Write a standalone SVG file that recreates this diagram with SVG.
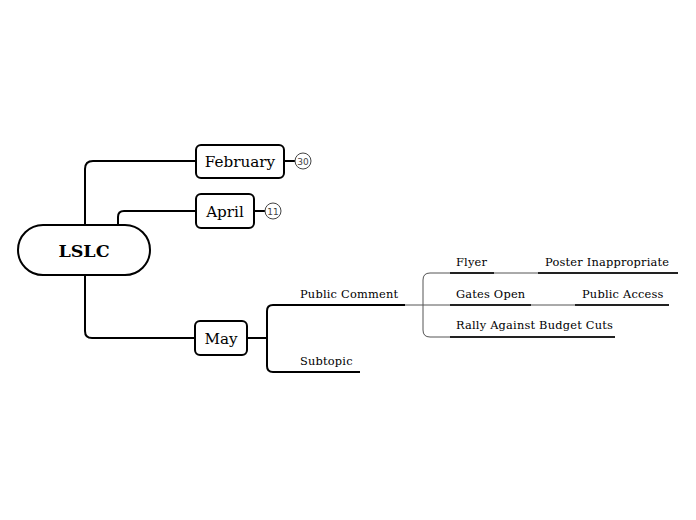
<svg xmlns="http://www.w3.org/2000/svg" width="696" height="520" viewBox="0 0 696 520">
<style>
.box{fill:#fff;stroke:#000;stroke-width:2}
.main{fill:none;stroke:#000;stroke-width:2}
.thin{fill:none;stroke:#555;stroke-width:1}
.ul{fill:none;stroke:#222;stroke-width:2}
.t{font-family:"DejaVu Serif","Liberation Serif",serif;fill:#000}
.big{font-size:15.2px;text-anchor:middle}
.sm{font-size:11.4px;letter-spacing:0.2px}
.badge{fill:#fff;stroke:#444;stroke-width:1}
.bt{font-family:"DejaVu Sans","Liberation Sans",sans-serif;font-size:9px;fill:#444;text-anchor:middle}
</style>
<g id="connectors">
<path class="main" d="M85,225 V169 Q85,161 93,161 H196"/>
<path class="main" d="M118,225 V217 Q118,211 124,211 H196"/>
<path class="main" d="M85,275 V331 Q85,338 92,338 H195"/>
<path class="main" d="M284,161 H295"/>
<path class="main" d="M254,211 H265"/>
<path class="main" d="M247,338 H267"/>
<path class="main" d="M273,305 Q267,305 267,311 V366 Q267,372 273,372"/>
<path class="thin" d="M405,305 H669"/>
<path class="thin" d="M430,273 Q423,273 423,280 V330 Q423,337 430,337 H450"/>
<path class="thin" d="M430,273 H678"/>
</g>
<g id="lslc">
<rect class="box" x="18" y="225" width="132" height="50" rx="25"/>
<text class="t" x="84" y="257" font-size="17.5" font-weight="bold" text-anchor="middle">LSLC</text>
</g>
<g id="february">
<rect class="box" x="196" y="145" width="88" height="33" rx="5"/>
<text class="t big" x="240" y="167">February</text>
<circle class="badge" cx="303" cy="161" r="8"/>
<text class="bt" x="303" y="164.5">30</text>
</g>
<g id="april">
<rect class="box" x="196" y="194" width="58" height="34" rx="5"/>
<text class="t big" x="225" y="217">April</text>
<circle class="badge" cx="273" cy="211" r="8"/>
<text class="bt" x="273" y="214.5">11</text>
</g>
<g id="may">
<rect class="box" x="195" y="321" width="52" height="34" rx="5"/>
<text class="t big" x="221" y="344">May</text>
</g>
<g id="public-comment">
<path class="main" d="M273,305 H405"/>
<text class="t sm" x="300" y="298">Public Comment</text>
</g>
<g id="subtopic">
<path class="main" d="M273,372 H360"/>
<text class="t sm" x="300" y="365">Subtopic</text>
</g>
<g id="flyer">
<path class="ul" d="M450,273 H494"/>
<text class="t sm" x="456" y="266">Flyer</text>
</g>
<g id="poster-inappropriate">
<path class="ul" d="M538,273 H678"/>
<text class="t sm" x="545" y="266">Poster Inappropriate</text>
</g>
<g id="gates-open">
<path class="ul" d="M450,305 H531"/>
<text class="t sm" x="456" y="298">Gates Open</text>
</g>
<g id="public-access">
<path class="ul" d="M575,305 H669"/>
<text class="t sm" x="582" y="298">Public Access</text>
</g>
<g id="rally">
<path class="ul" d="M450,337 H615"/>
<text class="t sm" x="456" y="329">Rally Against Budget Cuts</text>
</g>
</svg>
